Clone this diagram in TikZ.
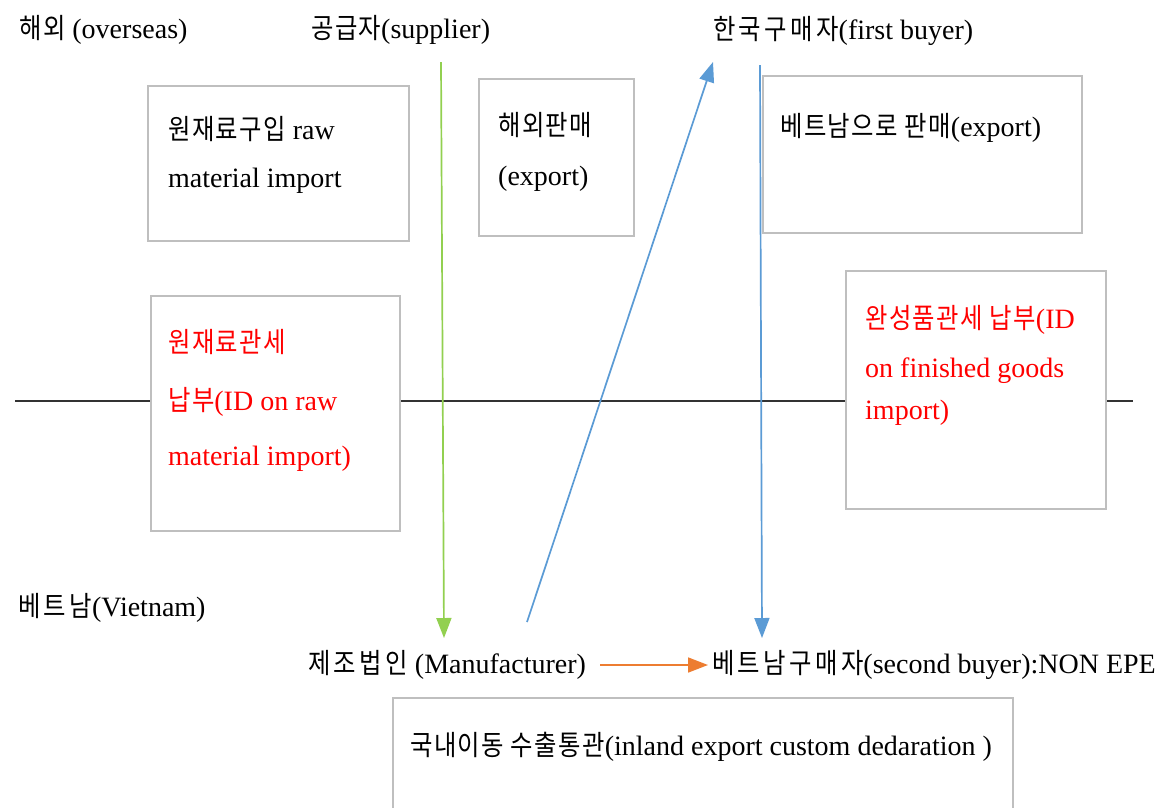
\documentclass[tikz,border=0pt]{standalone}
\usepackage{fontspec}
\setmainfont{Liberation Serif}
\newfontfamily\krfont[FakeStretch=0.87,LetterSpace=5]{Noto Sans CJK KR}
\newfontfamily\krwide[FakeStretch=0.87,LetterSpace=12]{Noto Sans CJK KR}
\newcommand\hk[1]{{\krfont #1}}
\newcommand\hw[1]{{\krwide #1}}
\usetikzlibrary{arrows.meta,calc}
\definecolor{boxgray}{HTML}{BFBFBF}
\definecolor{arrgreen}{HTML}{92D050}
\definecolor{arrblue}{HTML}{5B9BD5}
\definecolor{arrorange}{HTML}{ED7D31}
\definecolor{linegray}{HTML}{333333}
\tikzset{
  lbl/.style={anchor=west, inner sep=0pt, font=\fontsize{28}{32}\selectfont},
  boxtxt/.style={anchor=north west, inner sep=0pt, align=left, font=\fontsize{28}{48}\selectfont},
  redtxt/.style={anchor=north west, inner sep=0pt, align=left, text=red, font=\fontsize{28}{55}\selectfont},
  frame/.style={draw=boxgray, line width=1.5pt, fill=white, inner sep=0pt, anchor=north west},
  flow/.style={line width=1.7pt, -{Triangle[length=20pt,width=15pt]}}
}
\begin{document}
\begin{tikzpicture}[x=1pt,y=-1pt]
\useasboundingbox[fill=white] (0,0) rectangle (1173,807);
% border line
\coordinate (hl) at (15,401);
\coordinate (hr) at (1133,401);
\draw[linegray, line width=2.2pt] (hl) -- (hr);
% boxes
\node[frame, minimum width=261pt, minimum height=155pt] (b1) at (147,85) {};
\node[frame, minimum width=155pt, minimum height=157pt] (b2) at (478,78) {};
\node[frame, minimum width=319pt, minimum height=157pt] (b3) at (762,75) {};
\node[frame, minimum width=249pt, minimum height=235pt] (b4) at (150,295) {};
\node[frame, minimum width=260pt, minimum height=238pt] (b5) at (845,270) {};
\node[frame, minimum width=620pt, minimum height=112pt] (b6) at (392,697) {};
% box texts
\node[boxtxt] (t1) at (168,116) {\hk{원재료구입} raw\\material import};
\node[boxtxt] (t2) at (498,112) {\hk{해외판매}\\[2pt](export)};
\node[boxtxt] (t3) at (780,113) {\hk{베트남으로 판매}(export)};
\node[redtxt] (t4) at (168,329) {\hk{원재료관세}\\[3pt]\hk{납부}(ID on raw\\material import)};
\node[redtxt] (t5) at (865,305) {\hk{완성품관세 납부}(ID\\[-6pt]on finished goods\\[-13pt]import)};
\node[boxtxt] (t6) at (410,732) {\hk{국내이동 수출통관}(inland export custom dedaration )};
% labels
\node[lbl] (ov) at (19,30) {\hk{해외} (overseas)};
\node[lbl] (sup) at (311,30) {\hk{공급자}(supplier)};
\node[lbl] (fb) at (713,31) {\hw{한국구매자}(first buyer)};
\node[lbl] (vn) at (18,608) {\hw{베트남}(Vietnam)};
\node[lbl] (mfr) at (308,665) {\hw{제조법인} (Manufacturer)};
\node[lbl] (sb) at (712,665) {\hw{베트남구매자}(second buyer):NON EPE};
% connectors
\coordinate (gs) at (441,62);
\coordinate (ge) at (444,638);
\coordinate (us) at (527,622);
\coordinate (ue) at (713,62);
\coordinate (ds) at (760,65);
\coordinate (de) at (762,638);
\draw[flow, arrgreen] (gs) -- (ge);
\draw[flow, arrblue] (us) -- (ue);
\draw[flow, arrblue] (ds) -- (de);
\draw[flow, arrorange, shorten <=14pt, shorten >=4pt] (mfr.east) -- (sb.west);
\end{tikzpicture}
\end{document}
